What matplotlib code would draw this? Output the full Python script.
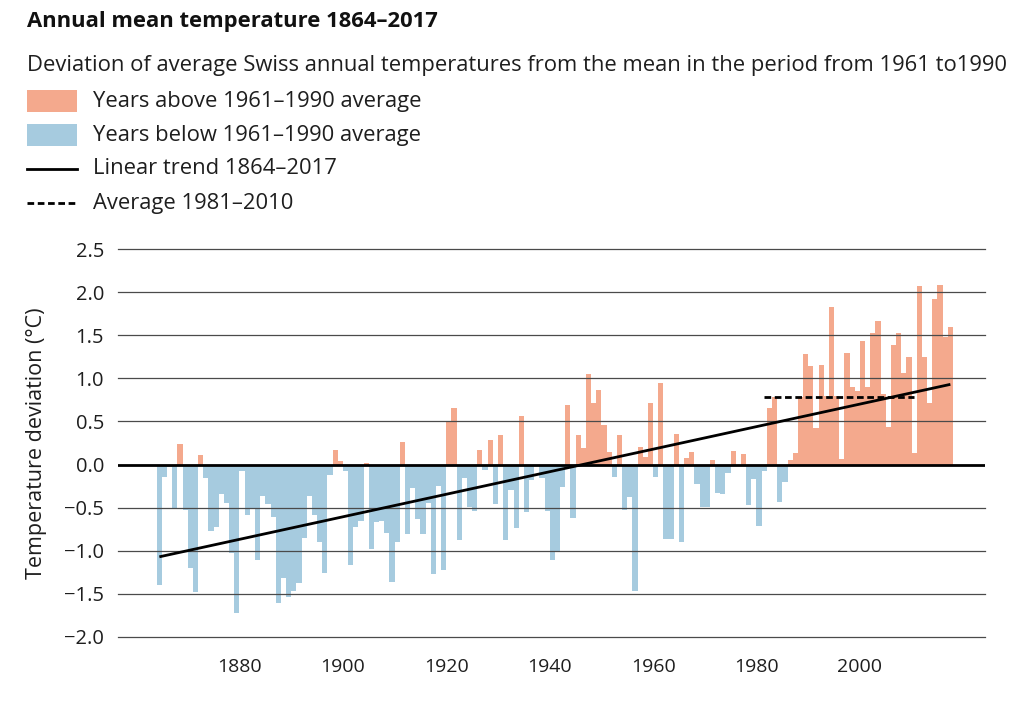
import matplotlib
matplotlib.use("Agg")
import matplotlib.pyplot as plt
from matplotlib.patches import Rectangle
from matplotlib.lines import Line2D
import numpy as np

plt.rcParams['font.family'] = ['Open Sans', 'DejaVu Sans']

first_year = 1864
deviations = [
    -1.40, -0.15, -0.03, -0.50, 0.24, -0.53, -1.20, -1.48, 0.11, -0.16,   # 1864-1873
    -0.77, -0.72, -0.34, -0.45, -1.03, -1.72, -0.07, -0.58, -0.50, -1.11,  # 1874-1883
    -0.36, -0.46, -0.61, -1.60, -1.32, -1.54, -1.47, -1.37, -0.85, -0.36,  # 1884-1893
    -0.59, -0.90, -1.26, -0.12, 0.17, 0.04, -0.07, -1.17, -0.73, -0.66,    # 1894-1903
    0.02, -0.98, -0.67, -0.65, -0.79, -1.36, -0.90, 0.26, -0.81, -0.27,    # 1904-1913
    -0.63, -0.81, -0.45, -1.27, -0.25, -1.22, 0.49, 0.66, -0.88, -0.16,    # 1914-1923
    -0.49, -0.54, 0.17, -0.06, 0.29, -0.46, 0.34, -0.87, -0.30, -0.74,     # 1924-1933
    0.56, -0.55, -0.18, -0.02, -0.16, -0.54, -1.11, -1.00, -0.26, 0.69,    # 1934-1943
    -0.62, 0.34, 0.19, 1.05, 0.71, 0.86, 0.46, 0.15, -0.14, 0.34,          # 1944-1953
    -0.53, -0.38, -1.47, 0.20, 0.09, 0.71, -0.15, 0.95, -0.86, -0.86,      # 1954-1963
    0.36, -0.90, 0.08, 0.14, -0.22, -0.49, -0.49, 0.05, -0.33, -0.34,      # 1964-1973
    -0.10, 0.16, -0.02, 0.12, -0.47, -0.17, -0.71, -0.08, 0.66, 0.78,      # 1974-1983
    -0.44, -0.20, 0.05, 0.13, 0.78, 1.28, 1.14, 0.42, 1.16, 0.80,          # 1984-1993
    1.83, 0.80, 0.07, 1.29, 0.90, 0.85, 1.43, 0.90, 1.52, 1.67,            # 1994-2003
    0.82, 0.44, 1.39, 1.52, 1.06, 1.25, 0.13, 2.07, 1.25, 0.71,            # 2004-2013
    1.92, 2.08, 1.48, 1.59,                                                # 2014-2017
]
years = list(range(first_year, first_year + len(deviations)))

trend_years = [1864, 2017]
trend_values = [-1.07, 0.93]
avg_years = [1981, 2010]
avg_value = 0.78

yticks = [-2.0, -1.5, -1.0, -0.5, 0.0, 0.5, 1.0, 1.5, 2.0, 2.5]
xticks = [1880, 1900, 1920, 1940, 1960, 1980, 2000]

title = "Annual mean temperature 1864–2017"
subtitle = "Deviation of average Swiss annual temperatures from the mean in the period from 1961 to1990"
legend_labels = ["Years above 1961–1990 average", "Years below 1961–1990 average",
                 "Linear trend 1864–2017", "Average 1981–2010"]
ylabel = "Temperature deviation (°C)"

c_above = '#F4A98D'
c_below = '#A6CBDF'
txt = '#1e1e1e'

fig = plt.figure(figsize=(10.24, 7.24), dpi=100)
ax = fig.add_axes([118/1024, 1-637/724, (985-118)/1024, (637-249)/724])

y = np.array(years)
v = np.array(deviations)
colors = [c_above if d > 0 else c_below for d in v]
ax.bar(y, v, width=1.0, align='edge', color=colors, linewidth=0, zorder=2)

for t in yticks:
    if t == 0:
        continue
    ax.axhline(t, color='#4a4a4a', lw=0.9, zorder=3, clip_on=False)
ax.axhline(0, color='black', lw=2.0, zorder=4)

ax.plot([trend_years[0] + 0.5, trend_years[1] + 0.5], trend_values, color='black', lw=2.0, zorder=5,
        solid_capstyle='butt')
ax.plot([avg_years[0] + 0.5, avg_years[1] + 0.5], [avg_value, avg_value], color='black', lw=2.0,
        ls=(0, (2.4, 1.3)), zorder=5)

ax.set_xlim(1856.5, 2024.2)
ax.set_ylim(-2.0, 2.5)
ax.set_yticks(yticks)
ax.set_yticklabels([f"{t:.1f}".replace('-', '−') for t in yticks], fontsize=14.5)
ax.set_xticks(xticks)
ax.set_xticklabels([str(x) for x in xticks], fontsize=14)
ax.tick_params(axis='both', length=0, colors=txt)
ax.tick_params(axis='x', pad=15)
ax.tick_params(axis='y', pad=10)
for s in ax.spines.values():
    s.set_visible(False)
ax.set_ylabel(ylabel, fontsize=15.5, color=txt)
ax.yaxis.set_label_coords((47 - 118) / 867, 0.5)

fig.text(27/1024, 1-22/724, title, fontsize=15.8, fontweight='bold', va='center', ha='left', color='#111111')
fig.text(27/1024, 1-66/724, subtitle, fontsize=15.8, va='center', ha='left', color=txt)

leg_y = [101, 135, 169, 203]
fig.patches.append(Rectangle((27/1024, 1-112/724), 50/1024, 22/724, transform=fig.transFigure,
                             facecolor=c_above, edgecolor='none'))
fig.patches.append(Rectangle((27/1024, 1-146/724), 50/1024, 22/724, transform=fig.transFigure,
                             facecolor=c_below, edgecolor='none'))
fig.lines.append(Line2D([27/1024, 77/1024], [1-169/724, 1-169/724], transform=fig.transFigure,
                        color='black', lw=2.0))
fig.lines.append(Line2D([27/1024, 77/1024], [1-203/724, 1-203/724], transform=fig.transFigure,
                        color='black', lw=2.0, ls=(0, (2.4, 1.3))))
for yy, lab in zip(leg_y, legend_labels):
    fig.text(93/1024, 1-yy/724, lab, fontsize=15.8, va='center', ha='left', color=txt)

fig.savefig('out.png', dpi=100)
